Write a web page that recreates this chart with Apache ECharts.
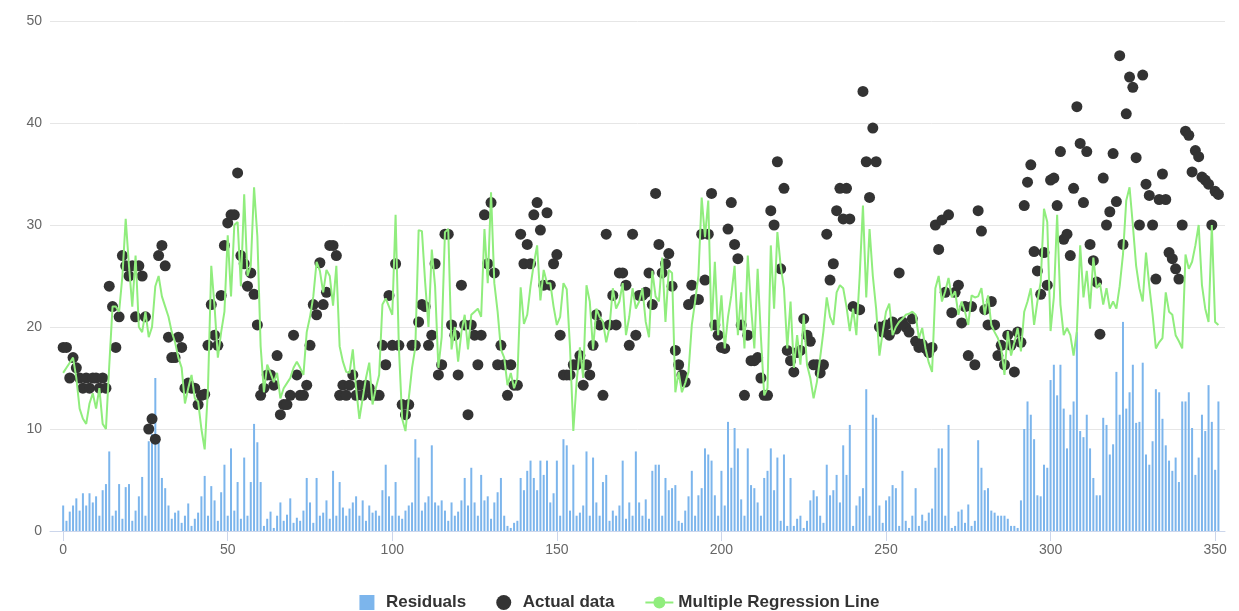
<!DOCTYPE html>
<html>
<head>
<meta charset="utf-8">
<title>Multiple Regression</title>
<script src="https://cdn.jsdelivr.net/npm/echarts@6.0.0/dist/echarts.min.js"></script>
<style>
  html, body { margin: 0; padding: 0; background: #ffffff; }
  #chart { width: 1239px; height: 611px; }
</style>
</head>
<body>
<div id="chart"></div>
<script>
// Observed values, one per observation index (0..351)
const actualData = [
  18, 18, 15, 17, 16, 15, 14, 15, 14, 15,
  15, 14, 15, 14, 24, 22, 18, 21, 27, 26,
  25, 26, 21, 26, 25, 21, 10, 11, 9, 27,
  28, 26, 19, 17, 17, 19, 18, 14, 14.5, 14,
  14, 12.4, 13.3, 13.4, 18.2, 22.2, 19.2, 18.2, 23.1, 28,
  30.2, 31, 31, 35.1, 27, 26.2, 24, 25.3, 23.2, 20.2,
  13.3, 14, 15.3, 15.3, 14.3, 17.2, 11.4, 12.4, 12.4, 13.3,
  19.2, 15.3, 13.3, 13.3, 14.3, 18.2, 22.2, 21.2, 26.3, 22.2,
  23.4, 28, 28, 27, 13.3, 14.3, 13.3, 14.3, 15.3, 13.3,
  14.3, 13.3, 14.3, 14, 13.3, 13.3, 13.3, 18.2, 16.3, 23.1,
  18.2, 26.2, 18.2, 12.4, 11.4, 12.4, 18.2, 18.2, 20.5, 22.2,
  22, 18.2, 19.2, 26.2, 15.3, 16.3, 29.1, 29.1, 20.2, 19.2,
  15.3, 24.1, 20.2, 11.4, 20.2, 19.2, 16.3, 19.2, 31, 26.2,
  32.2, 25.3, 16.3, 18.2, 16.3, 13.3, 16.3, 14.3, 14.3, 29.1,
  26.2, 28.1, 26.2, 31, 32.2, 29.5, 24.1, 31.2, 24.1, 26.2,
  27.1, 19.2, 15.3, 15.3, 15.3, 16.3, 16.3, 17.2, 14.3, 16.3,
  15.3, 18.2, 21.2, 20.2, 13.3, 29.1, 20.2, 23.1, 20.2, 25.3,
  25.3, 24.1, 18.2, 29.1, 19.2, 23.1, 23.1, 23.4, 25.3, 22.2,
  33.1, 28.1, 25.3, 26.2, 27.2, 24, 17.7, 16.3, 15.3, 14.6,
  22.2, 24.1, 22.7, 22.7, 29.1, 24.6, 29.1, 33.1, 20.2, 19.2,
  18, 17.9, 29.6, 32.2, 28.1, 26.7, 20.2, 13.3, 19.2, 16.7,
  16.7, 17, 15, 13.3, 13.3, 31.4, 30, 36.2, 25.7, 33.6,
  17.7, 16.7, 15.6, 17.5, 17.7, 20.8, 19.2, 18.6, 16.3, 16.3,
  15.5, 16.3, 29.1, 24.6, 26.2, 31.4, 33.6, 30.6, 33.6, 30.6,
  22, 21.8, 21.7, 43.1, 36.2, 32.7, 39.5, 36.2, 20, 19.5,
  20.2, 19.2, 20.5, 19.8, 25.3, 20.5, 20, 19.5, 20.8, 18.6,
  18, 18.3, 17.9, 17.5, 18, 30, 27.6, 30.5, 23.4, 31,
  21.4, 23.4, 24.1, 20.4, 22, 17.2, 22, 16.3, 31.4, 29.4,
  21.7, 20.2, 22.5, 20.2, 17.2, 18.2, 16.3, 19.2, 18.2, 15.6,
  19.5, 18.5, 31.9, 34.2, 35.9, 27.4, 25.5, 23.2, 27.3, 24.1,
  34.4, 34.6, 31.9, 37.2, 28.6, 29.1, 27, 33.6, 41.6, 38,
  32.2, 37.2, 28.1, 26.5, 24.4, 19.3, 34.6, 30, 31.3, 37,
  32.3, 46.6, 28.1, 40.9, 44.5, 43.5, 36.6, 30, 44.7, 34,
  32.9, 30, 24.7, 32.5, 35, 32.5, 27.3, 26.7, 25.7, 24.7,
  30, 39.2, 38.8, 35.2, 37.3, 36.7, 34.7, 34.4, 34, 30,
  33.3, 33
];

// Fitted values of the multiple regression model
const fittedData = [
  15.5, 16, 16.5, 17, 15, 12, 11, 10.5, 12.5, 13.5,
  12, 14, 10.5, 10, 16.2, 22, 22, 21.5, 25, 30.6,
  26, 22, 27, 20, 19.5, 21.5, 19, 20, 24, 25,
  23, 22, 21, 19.5, 18.5, 17, 16, 12.5, 14, 15.3,
  13, 12.7, 10, 8, 14, 26, 22, 17, 19.5, 21.5,
  29, 23, 30, 30.3, 24, 33, 25, 26, 33.7, 28.9,
  18.1, 13.6, 16.3, 15.5, 14.6, 15.5, 13, 14, 14.5, 15,
  16, 16.6, 16, 15.3, 19.5, 21, 23, 26.4, 25.5, 23.4,
  25.6, 25, 22.1, 26, 18.1, 16.6, 15.6, 15.5, 17.8, 14,
  11, 13, 15, 16.5, 12.4, 14, 15.3, 22.2, 22.8, 22,
  21.2, 31, 18, 11, 9.8, 13, 16, 18, 29.5, 29.4,
  24.3, 20, 27.6, 24, 16, 19, 29.3, 29.6, 17.8, 20,
  16.6, 19.5, 21.2, 17.8, 21.2, 21.5, 21.8, 21, 29.6, 24.3,
  33.2, 24.3, 21.5, 17.8, 17, 14.3, 15.5, 14, 15, 23.9,
  20.3, 21.2, 24, 26.2, 28, 22.6, 25.6, 24.3, 24.3, 22,
  20.2, 21, 24.3, 23.7, 18, 9.8, 14.6, 18, 15, 24.1,
  22.5, 17.8, 21.8, 21, 20.5, 18.5, 20, 23.8, 21.8, 22.5,
  24.3, 19.2, 21, 23.8, 21.8, 22.5, 23.8, 20.5, 19, 25.5,
  23, 22.5, 26.8, 20.5, 25.6, 25.3, 13.6, 15.6, 13.6, 14.5,
  15.6, 20.2, 22.5, 25, 32.7, 28.8, 32.4, 19.6, 26.4, 19.2,
  23.1, 17.9, 21, 23.1, 26, 19.2, 23.4, 17.9, 27, 22,
  17.9, 25.7, 19, 13.3, 14, 28, 21.8, 29.3, 26, 23.8,
  17.9, 22.5, 16, 19.2, 16.3, 21.2, 16.3, 15, 13, 14.6,
  17, 19.6, 22.9, 21, 20.2, 23.4, 24.1, 23.8, 22, 19.6,
  21.8, 19.2, 25, 31.9, 22.9, 29.6, 25, 21.8, 17.2, 19.5,
  21.5, 22.3, 19.2, 20, 20.5, 20.8, 21.2, 21.3, 21.5, 21.2,
  18.9, 19.9, 17.9, 16.5, 15.6, 23.8, 25, 22.5, 23.5, 24.8,
  22.9, 23.5, 21.2, 22.5, 21.5, 20.2, 23.1, 22.9, 23, 23.8,
  21.2, 23.1, 20.2, 19.5, 18.9, 17.9, 15.3, 19.6, 17.2, 18.5,
  19.9, 17.6, 21.5, 22.5, 23.8, 20.2, 22.5, 24.4, 31.6, 30.3,
  19.6, 22.9, 31, 22.2, 19.2, 19.9, 19.2, 17.2, 19.6, 28,
  22.9, 25.5, 21.8, 26.8, 23.8, 24.3, 22.2, 23.8, 21.8, 22.5,
  21.8, 24, 27.1, 32.4, 33.7, 30, 26, 23.8, 22.5, 27.3,
  24, 21.2, 17.9, 18.5, 18.9, 23.4, 21.5, 21.2, 19.2, 18.6,
  17.9, 27.1, 25.7, 26.4, 28, 30, 24.1, 21.8, 20.5, 30,
  20.5, 20.2
];

// Absolute residuals per observation
const residualData = [
  2.5, 1.0, 1.9, 2.5, 3.2, 2.0, 3.7, 2.5, 3.7, 2.8,
  3.4, 1.5, 4.0, 4.6, 7.8, 1.5, 2.0, 4.6, 1.2, 4.3,
  4.6, 1.0, 2.0, 3.4, 5.3, 1.5, 8.8, 9.5, 15.0, 9.0,
  5.2, 4.2, 2.5, 1.2, 1.8, 2.0, 0.8, 1.5, 2.7, 0.5,
  1.2, 1.8, 3.4, 5.4, 1.5, 4.4, 3.0, 1.0, 3.8, 6.5,
  1.5, 8.1, 2.0, 4.8, 1.2, 7.2, 1.5, 4.8, 10.5, 8.7,
  4.8, 0.5, 1.2, 1.9, 0.3, 1.5, 2.8, 1.0, 1.6, 3.2,
  0.8, 1.3, 1.0, 2.0, 5.2, 2.8, 0.8, 5.2, 1.5, 1.8,
  3.0, 1.2, 5.9, 1.5, 4.8, 2.3, 1.5, 2.2, 2.8, 3.4,
  1.5, 3.0, 1.0, 2.5, 1.8, 2.0, 1.5, 4.0, 6.5, 3.4,
  1.5, 4.8, 1.5, 1.2, 2.0, 2.5, 2.8, 9.0, 7.2, 2.0,
  2.8, 3.4, 8.4, 2.8, 2.5, 3.0, 2.0, 1.0, 2.8, 1.5,
  1.9, 3.0, 5.2, 2.5, 6.2, 2.8, 1.5, 5.5, 3.0, 3.4,
  1.2, 2.8, 3.8, 5.2, 1.5, 0.5, 0.3, 0.8, 1.0, 5.2,
  4.0, 5.9, 6.9, 5.2, 4.0, 6.9, 5.5, 6.9, 2.8, 3.7,
  6.9, 1.5, 9.0, 8.4, 2.0, 6.5, 1.5, 1.8, 2.5, 7.8,
  1.5, 7.2, 2.8, 1.5, 4.8, 5.5, 1.0, 2.0, 1.5, 2.5,
  6.9, 1.2, 2.8, 1.5, 7.8, 2.8, 1.5, 3.1, 1.2, 5.9,
  6.5, 6.5, 1.5, 5.2, 4.0, 4.2, 4.5, 1.0, 0.8, 2.0,
  3.4, 5.9, 1.5, 3.5, 4.2, 8.1, 7.5, 6.9, 3.5, 1.5,
  5.9, 2.5, 10.7, 6.2, 10.1, 8.1, 3.1, 1.5, 8.1, 4.5,
  4.2, 2.8, 1.5, 5.2, 5.9, 8.1, 4.0, 7.2, 1.0, 7.5,
  0.5, 5.2, 0.5, 1.2, 1.5, 0.3, 1.0, 3.0, 4.0, 3.4,
  1.5, 0.8, 6.5, 3.5, 4.0, 5.5, 2.8, 8.4, 5.5, 10.4,
  0.5, 2.5, 3.4, 4.2, 13.9, 1.5, 11.4, 11.1, 2.5, 0.8,
  3.0, 3.4, 4.5, 4.2, 0.5, 5.9, 1.0, 0.3, 1.5, 4.2,
  0.5, 1.6, 1.0, 1.8, 2.2, 6.2, 8.1, 8.1, 1.5, 10.4,
  0.3, 0.5, 1.9, 2.1, 0.8, 2.6, 0.5, 1.0, 8.9, 6.2,
  4.0, 4.2, 2.0, 1.8, 1.5, 1.5, 1.5, 1.2, 0.5, 0.5,
  0.3, 3.0, 10.0, 12.7, 11.4, 9.0, 3.5, 3.4, 6.5, 6.2,
  14.8, 16.3, 13.3, 16.3, 12.0, 8.1, 11.4, 12.7, 19.5, 9.8,
  9.2, 11.4, 8.1, 5.2, 3.5, 3.5, 11.1, 10.4, 7.5, 8.5,
  15.6, 11.4, 20.5, 12.0, 13.6, 16.3, 10.6, 10.7, 16.5, 7.5,
  6.5, 8.8, 13.9, 13.6, 11.0, 8.4, 6.9, 5.9, 7.2, 4.8,
  12.7, 12.7, 13.6, 10.1, 5.5, 7.2, 11.4, 9.8, 14.3, 10.7,
  6.0, 12.7
];

const xTicks = [0, 50, 100, 150, 200, 250, 300, 350];
const yTicks = [0, 10, 20, 30, 40, 50];

const seriesNames = ['Residuals', 'Actual data', 'Multiple Regression Line'];

// Pair each value with its observation index for the numeric x axis
const toPairs = (values) => values.map((v, i) => [i, v]);

const chart = echarts.init(document.getElementById('chart'), null, { renderer: 'canvas' });

const labelFont = '"Liberation Sans", Arial, Helvetica, sans-serif';

chart.setOption({
  animation: false,
  backgroundColor: '#ffffff',
  grid: { left: 50, right: 14, top: 21, bottom: 80 },
  legend: {
    data: [
      { name: seriesNames[0], icon: 'path://M0,0H10V10H0Z' },
      { name: seriesNames[1], icon: 'circle' },
      { name: seriesNames[2] }
    ],
    left: 'center',
    top: 589,
    itemWidth: 28,
    itemHeight: 15,
    itemGap: 30,
    textStyle: { color: '#333333', fontSize: 17, fontWeight: 'bold', fontFamily: labelFont }
  },
  xAxis: {
    type: 'value',
    min: -4,
    max: 353,
    axisLine: { show: true, lineStyle: { color: '#ccd6eb', width: 1 } },
    axisTick: { show: true, customValues: xTicks, length: 10, lineStyle: { color: '#ccd6eb' } },
    axisLabel: { customValues: xTicks, color: '#666666', fontSize: 14, margin: 12, fontFamily: labelFont },
    splitLine: { show: false }
  },
  yAxis: {
    type: 'value',
    min: yTicks[0],
    max: yTicks[yTicks.length - 1],
    interval: 10,
    axisLine: { show: false },
    axisTick: { show: false },
    axisLabel: { color: '#666666', fontSize: 14, margin: 8, fontFamily: labelFont },
    splitLine: { lineStyle: { color: '#e6e6e6', width: 1 } }
  },
  series: [
    {
      name: seriesNames[0],
      type: 'bar',
      data: toPairs(residualData),
      barWidth: 2,
      itemStyle: { color: '#7cb5ec' }
    },
    {
      name: seriesNames[1],
      type: 'scatter',
      data: toPairs(actualData),
      symbol: 'circle',
      symbolSize: 11,
      itemStyle: { color: '#333333', opacity: 1 }
    },
    {
      name: seriesNames[2],
      type: 'line',
      data: toPairs(fittedData),
      showSymbol: false,
      symbol: 'circle',
      symbolSize: 7,
      lineStyle: { color: '#90ed7d', width: 2 },
      itemStyle: { color: '#90ed7d' }
    }
  ]
});
</script>
</body>
</html>
